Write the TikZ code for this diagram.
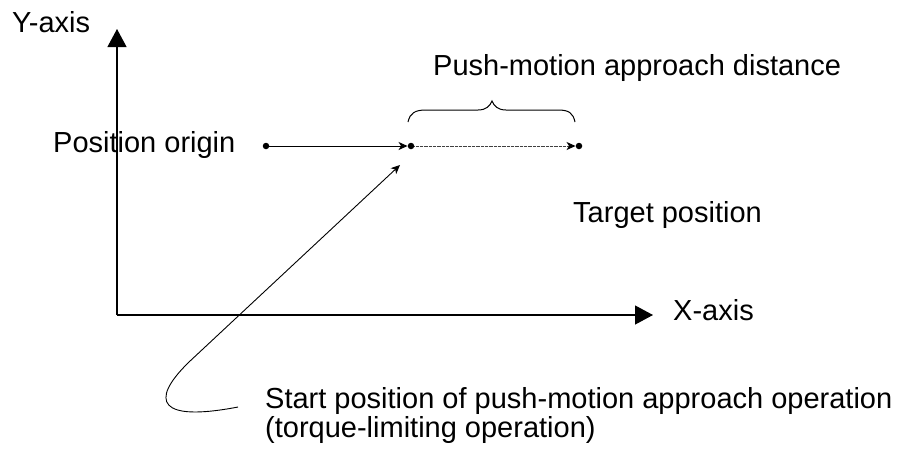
\documentclass[tikz,border=0pt]{standalone}
\usepackage{fontspec}
\setmainfont{Liberation Sans}
\usetikzlibrary{arrows.meta}
\begin{document}
\begin{tikzpicture}[x=1pt,y=-1pt,
  lbl/.style={anchor=base west,inner sep=0pt,font=\fontsize{29}{26}\selectfont,align=left},
  dot/.style={circle,fill=black,inner sep=0pt,minimum size=6.5pt},
  axis/.style={line width=1.2pt,-{Triangle[length=18pt,width=19pt]}},
  small/.style={line width=1pt,-{Stealth[length=9pt,width=8pt,inset=2.5pt]}}]
\useasboundingbox[fill=white] (0,0) rectangle (901,448);
% axes
\coordinate (o) at (117,315);
\coordinate (ytip) at (117,29);
\coordinate (xtip) at (653,315);
\draw[axis] (o) -- (ytip);
\draw[axis] (o) -- (xtip);
% labels
\node[lbl] (ylab) at (12,32) {Y-axis};
\node[lbl] (xlab) at (673,320) {X-axis};
\node[lbl] (porig) at (53,152) {Position origin};
\node[lbl] (tpos) at (573,222) {Target position};
\node[lbl] (pmad) at (433,75) {Push-motion approach distance};
\node[lbl] (spos) at (265,437) {Start position of push-motion approach operation\\(torque-limiting operation)};
% dots
\node[dot] (a) at (266,146) {};
\node[dot] (b) at (411,146) {};
\node[dot] (c) at (579,146) {};
\draw[small] (a) -- (b);
\draw[line width=1pt,draw=black!75,dash pattern=on 0.8pt off 0.5pt,-{Stealth[length=9pt,width=8pt,inset=2.5pt,color=black,sep=0pt]}] (b) -- (c);
% brace
\draw[line width=1pt] (408,122) .. controls (410,113) and (415,110) .. (426,110) -- (478,110)
  .. controls (486,110) and (490,106) .. (492,101)
  .. controls (494,106) and (498,110) .. (506,110) -- (558,110)
  .. controls (569,110) and (573,113) .. (575,122);
% leader
\coordinate (lend) at (238,407);
\coordinate (ltip) at (400,165);
\draw[small,line width=0.9pt] (lend) .. controls (160,422) and (148,402) .. (189,362) -- (ltip);
\end{tikzpicture}
\end{document}
